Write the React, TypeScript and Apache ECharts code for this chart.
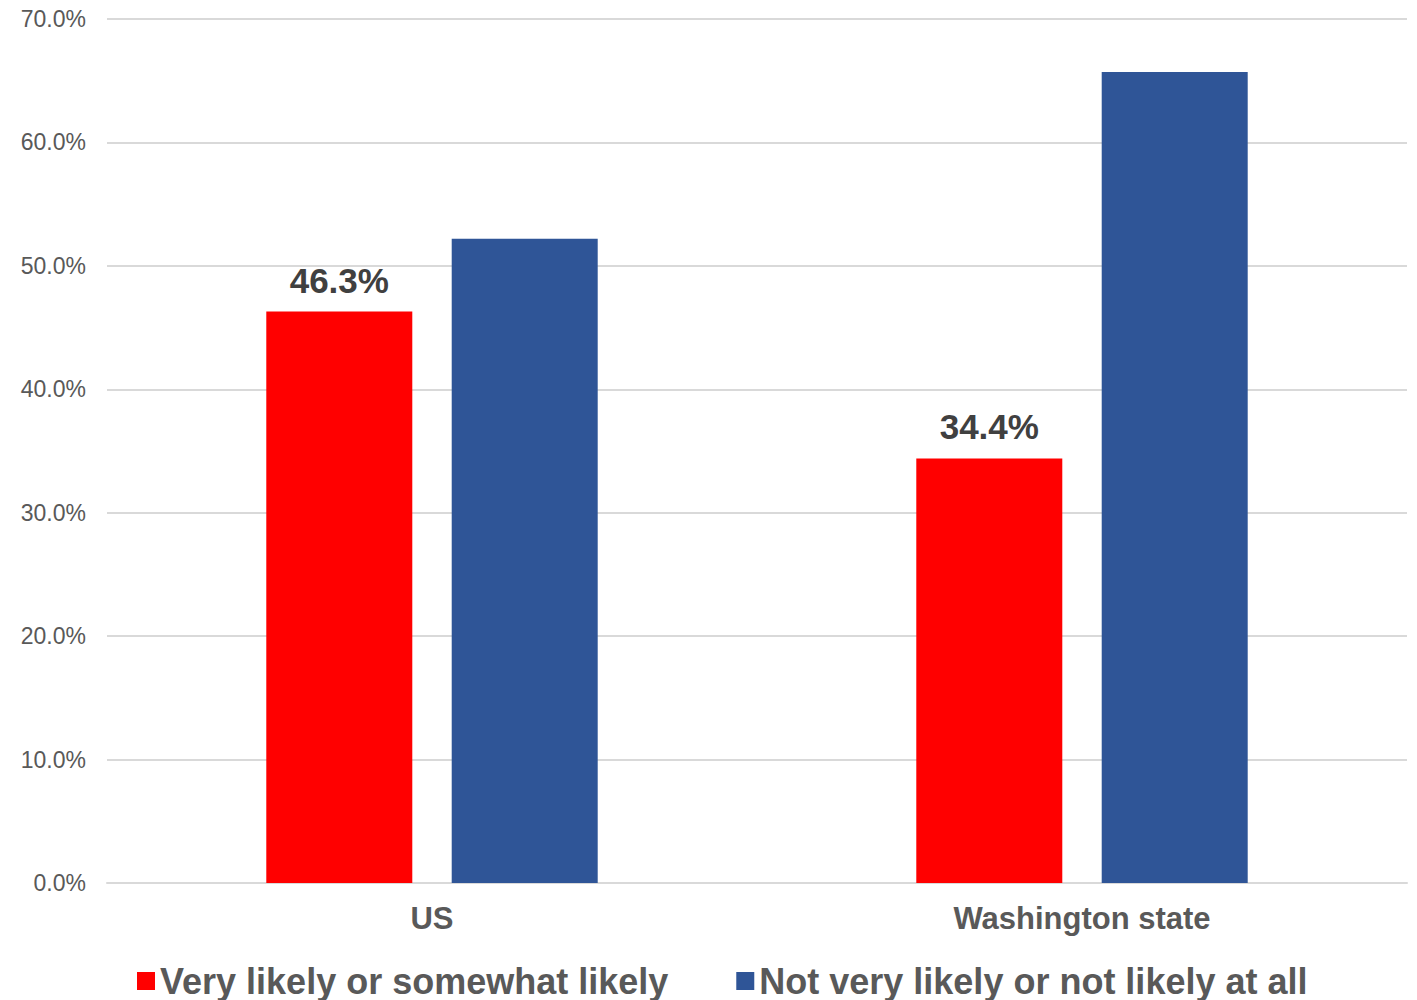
import React, { useEffect, useRef } from "react";
import * as echarts from "echarts";

// Survey results: share of respondents, by region
const categories = ["US", "Washington state"];
const likelyValues = [46.3, 34.4];
const notLikelyValues = [52.2, 65.7];
const seriesNames = ["Very likely or somewhat likely", "Not very likely or not likely at all"];
const yTicks = { min: 0, max: 70, interval: 10 };

const FONT = "'Liberation Sans', Arial, Helvetica, sans-serif";

export default function App() {
  const ref = useRef<HTMLDivElement>(null);

  useEffect(() => {
    if (!ref.current) return;
    const chart = echarts.init(ref.current, null, { renderer: "svg" });
    chart.setOption({
      animation: false,
      backgroundColor: "#ffffff",
      textStyle: { fontFamily: FONT },
      grid: { left: 107, right: 10, top: 19, bottom: 117, containLabel: false },
      legend: {
        left: 137,
        top: 963,
        padding: 0,
        icon: "rect",
        itemWidth: 18,
        itemHeight: 18,
        itemGap: 68,
        selectedMode: false,
        textStyle: { fontSize: 36, fontWeight: "bold", color: "#595959", fontFamily: FONT },
        data: seriesNames,
      },
      xAxis: {
        type: "category",
        data: categories,
        axisTick: { show: false },
        axisLine: { lineStyle: { color: "#d9d9d9", width: 2 } },
        axisLabel: {
          fontSize: 31,
          fontWeight: "bold",
          color: "#595959",
          margin: 20,
          fontFamily: FONT,
        },
      },
      yAxis: {
        type: "value",
        min: yTicks.min,
        max: yTicks.max,
        interval: yTicks.interval,
        axisLine: { show: false },
        axisTick: { show: false },
        splitLine: { lineStyle: { color: "#d9d9d9", width: 2 } },
        axisLabel: {
          fontSize: 23,
          color: "#595959",
          margin: 21,
          fontFamily: FONT,
          formatter: (v: number) => v.toFixed(1) + "%",
        },
      },
      series: [
        {
          name: seriesNames[0],
          type: "bar",
          data: likelyValues,
          barWidth: 146,
          barGap: "27%",
          itemStyle: { color: "#ff0000" },
          label: {
            show: true,
            position: "top",
            distance: 14,
            fontSize: 35,
            fontWeight: "bold",
            color: "#404040",
            fontFamily: FONT,
            formatter: (p: any) => p.value.toFixed(1) + "%",
          },
        },
        {
          name: seriesNames[1],
          type: "bar",
          data: notLikelyValues,
          barWidth: 146,
          barGap: "27%",
          itemStyle: { color: "#2f5597" },
        },
      ],
    });
    return () => chart.dispose();
  }, []);

  return (
    <div
      ref={ref}
      style={{ position: "fixed", left: 0, top: 0, width: 1417, height: 1000, background: "#fff" }}
    />
  );
}
